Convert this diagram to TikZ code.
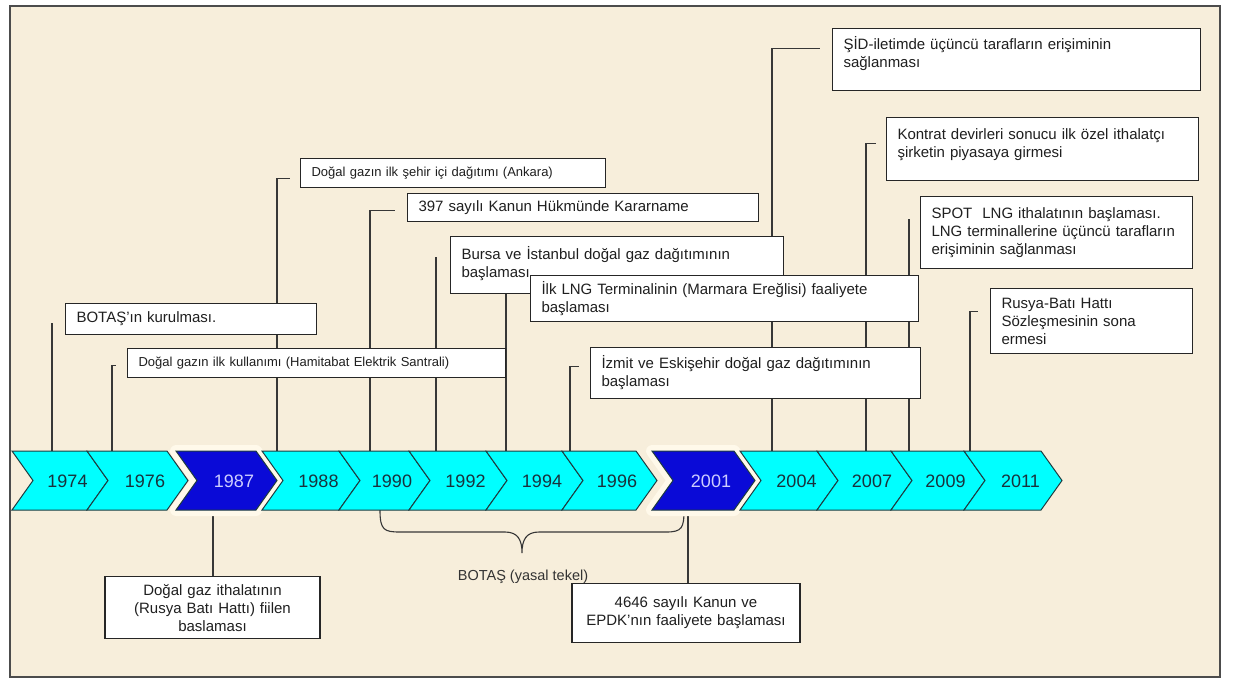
\documentclass[tikz,border=0pt]{standalone}
\usepackage{fontspec}
\setmainfont{Liberation Sans}
\usepackage{tikz}

\definecolor{parchment}{RGB}{247,238,219}
\definecolor{halo}{RGB}{255,249,234}
\definecolor{cyanband}{RGB}{0,255,255}
\definecolor{darkband}{RGB}{10,10,215}
\definecolor{edgeband}{RGB}{30,60,64}
\definecolor{yrink}{RGB}{25,50,60}
\definecolor{yrlight}{RGB}{205,205,255}
\definecolor{leader}{RGB}{55,55,55}

\pgfdeclarelayer{paper}
\pgfdeclarelayer{leads}
\pgfsetlayers{paper,leads,main}

\tikzset{
	evt/.style={draw=black!85, fill=white, line width=1.1pt, anchor=north west, align=left, inner xsep=11pt, inner ysep=2pt, text=black!88, font=\fontsize{15}{18}\selectfont},
	evtsmall/.style={evt, font=\fontsize{13}{15}\selectfont},
	evtmid/.style={evt, anchor=north, align=center},
	leadline/.style={draw=leader, line width=1.1pt},
	yrcyan/.style={fill=cyanband, draw=edgeband, line width=1pt, line join=miter},
	yrdark/.style={fill=darkband, draw=edgeband, line width=1pt, line join=miter},
	yrlabel/.style={font=\fontsize{18}{18}\selectfont, text=yrink},
}

\begin{document}
\begin{tikzpicture}[x=1pt, y={(0pt,-1pt)}]
	\useasboundingbox (0,0) rectangle (1234,681);
	\begin{pgfonlayer}{paper}
		\fill[white] (0,0) rectangle (1234,681);
		\filldraw[fill=parchment, draw=black!70, line width=1.5pt] (10,6) rectangle (1220,677);
	\end{pgfonlayer}

	\foreach \yr/\lx/\rx in {1987/176/256, 2001/652/734}
	{
		\draw[draw=halo, line width=12pt, line join=round] (\lx,451) -- (\rx,451) -- (\rx+21,480.5) -- (\rx,510) -- (\lx,510) -- (\lx+21,480.5) -- cycle;
		\draw[yrdark] (\lx,451) -- (\rx,451) -- (\rx+21,480.5) -- (\rx,510) -- (\lx,510) -- (\lx+21,480.5) -- cycle;
		\node[yrlabel, text=yrlight] (y\yr) at ({(\lx+\rx)/2+18},481) {\yr};
	}
	\foreach \yr/\lx/\rx in {1974/12/87, 1976/87/167, 1988/262/339, 1990/339/409, 1992/409/486, 1994/486/562, 1996/562/636, 2004/740/817, 2007/817/891, 2009/891/964, 2011/964/1041}
	{
		\draw[yrcyan] (\lx,451) -- (\rx,451) -- (\rx+21,480.5) -- (\rx,510) -- (\lx,510) -- (\lx+21,480.5) -- cycle;
		\node[yrlabel] (y\yr) at ({(\lx+\rx)/2+18},481) {\yr};
	}
	\foreach \yr/\x in {1974/52, 1976/112, 1988/277, 1990/370, 1992/436, 1994/506, 1996/570, 2004/772, 2007/866, 2009/909, 2011/970}
		\coordinate (t\yr) at (\x,451);
	\coordinate (b1987) at (213,510);
	\coordinate (b2001) at (688,510);

	\node[evt, text width=346pt, minimum height=62pt, text depth=33pt] (bx2004) at (832,28) {ŞİD-iletimde üçüncü tarafların erişiminin\\sağlanması};
	\node[evt, text width=290pt, minimum height=63pt, text depth=29pt] (bx2007) at (886,117) {Kontrat devirleri sonucu ilk özel ithalatçı\\şirketin piyasaya girmesi};
	\node[evt, text width=250pt, minimum height=72pt] (bx2009) at (920,196) {SPOT~ LNG ithalatının başlaması.\\LNG terminallerine üçüncü tarafların\\erişiminin sağlanması};
	\node[evt, text width=180pt, minimum height=65pt] (bx2011) at (990,288) {Rusya-Batı Hattı\\Sözleşmesinin sona\\ermesi};
	\node[evtsmall, text width=283pt, minimum height=29pt] (bx1988) at (300,158) {Doğal gazın ilk şehir içi dağıtımı (Ankara)};
	\node[evt, text width=329pt, minimum height=28pt] (bx1990) at (407,193) {397 sayılı Kanun Hükmünde Kararname};
	\node[evt, text width=311pt, minimum height=57pt, text depth=25pt] (bx1992) at (450,236) {Bursa ve İstanbul doğal gaz dağıtımının\\başlaması};
	\node[evt, text width=366pt, minimum height=46pt] (bx1994) at (530,275) {İlk LNG Terminalinin (Marmara Ereğlisi) faaliyete\\başlaması};
	\node[evt, text width=229pt, minimum height=31pt] (bx1974) at (65,303) {BOTAŞ'ın kurulması.};
	\node[evtsmall, text width=356pt, minimum height=29pt] (bx1976) at (127,348) {Doğal gazın ilk kullanımı (Hamitabat Elektrik Santrali)};
	\node[evt, text width=308pt, minimum height=51pt] (bx1996) at (590,347) {İzmit ve Eskişehir doğal gaz dağıtımının\\başlaması};
	\node[evtmid, text width=193pt, minimum height=62pt] (bx1987) at (212.5,576) {Doğal gaz ithalatının\\(Rusya Batı Hattı) fiilen\\baslaması};
	\node[evtmid, text width=206pt, minimum height=59pt] (bx2001) at (686,583) {4646 sayılı Kanun ve\\EPDK'nın faaliyete başlaması};

	\begin{pgfonlayer}{leads}
		\draw[leadline] (t1974) |- ([xshift=-13pt,yshift=-3.5pt]bx1974.west);
		\draw[leadline] (t1976) |- ([xshift=-11pt,yshift=-2.5pt]bx1976.west);
		\draw[leadline] (t1988) |- ([xshift=-10pt,yshift=-5pt]bx1988.west);
		\draw[leadline] (t1990) |- ([xshift=-12pt,yshift=-3pt]bx1990.west);
		\draw[leadline] (t1992) |- ([xshift=-14pt,yshift=8pt]bx1992.west);
		\draw[leadline] (t1994) |- ([xshift=-24pt,yshift=6pt]bx1994.west);
		\draw[leadline] (t1996) |- ([xshift=-11pt,yshift=7pt]bx1996.west);
		\draw[leadline] (t2004) |- ([xshift=-12pt,yshift=11pt]bx2004.west);
		\draw[leadline] (t2007) |- ([xshift=-10pt,yshift=6pt]bx2007.west);
		\draw[leadline] (t2009) |- ([xshift=-11pt,yshift=14pt]bx2009.west);
		\draw[leadline] (t2011) |- ([xshift=-12pt,yshift=10pt]bx2011.west);
		\draw[leadline] (b1987) -- (b1987 |- bx1987.north);
		\draw[leadline] (b2001) -- (b2001 |- bx2001.north);
		\draw[leadline] (380,510) .. controls (380,530) and (384,532) .. (400,532) -- (505,532) .. controls (518,532) and (522,540) .. (522,553) .. controls (522,540) and (526,532) .. (539,532) -- (666,532) .. controls (682,532) and (684,528) .. (684,510);
	\end{pgfonlayer}
	\node[font=\fontsize{14.5}{17}\selectfont, text=black!80] (monopoly) at (523,577) {BOTAŞ (yasal tekel)};
\end{tikzpicture}
\end{document}
